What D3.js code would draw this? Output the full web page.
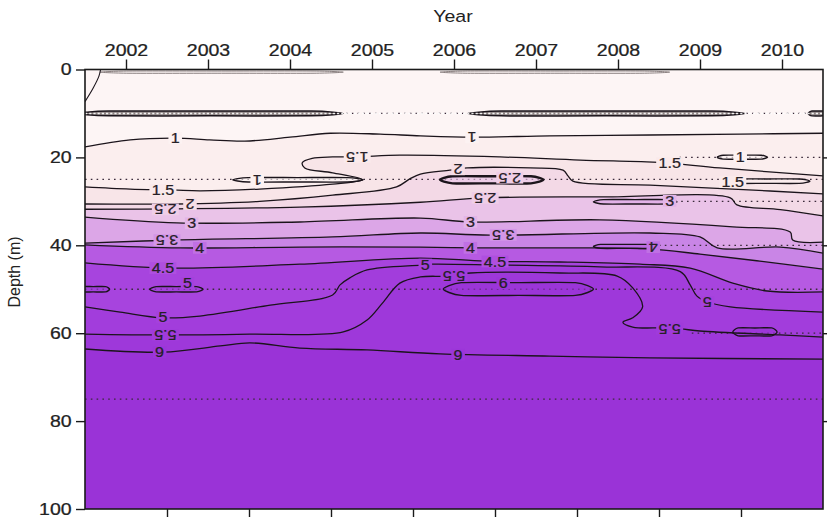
<!DOCTYPE html>
<html>
<head>
<meta charset="utf-8">
<script src="https://cdn.jsdelivr.net/npm/d3@7"></script>
<style>
html, body { margin: 0; padding: 0; background: #fff; }
svg { display: block; font-family: "Liberation Sans", Arial, sans-serif; }
</style>
</head>
<body>
<svg id="chart" width="827" height="517"></svg>
<script>
// ---- data -------------------------------------------------------------
const yearTicks = [2002, 2003, 2004, 2005, 2006, 2007, 2008, 2009, 2010];
const midYearTicks = [2002.5, 2003.5, 2004.5, 2005.5, 2006.5, 2007.5, 2008.5, 2009.5];
const depthTicks = [0, 20, 40, 60, 80, 100];
const sideDepthTicks = [20, 40, 60, 80];

// contour levels and the fill of each band (below first level .. above last)
const levels = [1, 1.5, 2, 2.5, 3, 3.5, 4, 4.5, 5, 5.5, 6];
const bandColors = ["#fdf5f5", "#fbeeee", "#f8e5e8", "#f3d9e6", "#eac3e8", "#dca6e7",
                    "#c985e6", "#b65ae2", "#a744de", "#a23ddc", "#9e38da", "#9a33d7"];

// isoline depth (m) through time (decimal year), one array per level
const iso1  = [[2001.5,17.6],[2002.05,16.0],[2002.6,15.6],[2003.02,16.0],[2003.45,16.3],[2004.0,15.4],[2004.49,14.5],[2005.1,14.7],[2005.59,15.1],[2006.22,15.4],[2007.17,15.1],[2008.39,14.9],[2009.49,14.7],[2010.5,14.5]];
const iso15 = [[2001.5,26.7],[2002.05,27.2],[2002.57,27.4],[2002.9,27.6],[2003.63,27.2],[2004.52,26.1],[2004.89,25.1],[2004.52,23.5],[2004.18,22.4],[2004.15,21.2],[2004.27,20.2],[2004.52,19.9],[2004.82,19.9],[2005.34,19.5],[2006.56,19.9],[2007.54,20.6],[2008.35,21.0],[2008.63,21.3],[2009.24,22.4],[2010.5,24.2]];
const iso2  = [[2001.5,30.6],[2002.62,30.6],[2003.63,30.0],[2004.52,28.6],[2005.3,26.7],[2005.46,24.9],[2005.59,23.8],[2005.95,22.9],[2006.16,22.4],[2006.93,22.4],[2007.33,22.9],[2007.39,24.2],[2007.45,25.4],[2008.39,26.3],[2009.4,27.2],[2010.5,28.3]];
const iso25 = [[2001.5,31.8],[2002.62,31.7],[2004.12,31.3],[2005.59,30.2],[2006.38,29.2],[2007.78,29.0],[2009.37,29.2],[2009.45,30.8],[2009.98,31.9],[2010.5,33.3]];
const iso3  = [[2001.5,33.6],[2002.62,34.9],[2004.12,34.7],[2005.59,33.8],[2006.2,34.7],[2007.78,34.2],[2009.4,35.8],[2010.1,37.0],[2010.13,38.8],[2010.5,39.3]];
const iso35 = [[2001.5,39.5],[2002.6,38.8],[2004.52,38.1],[2005.59,37.2],[2006.44,37.7],[2008.39,37.2],[2009.0,38.1],[2009.21,40.6],[2009.98,40.4],[2010.5,41.8]];
const iso4  = [[2001.5,39.9],[2002.66,40.6],[2004.12,40.4],[2005.59,40.4],[2006.28,40.6],[2007.29,40.6],[2008.35,40.8],[2009.0,42.0],[2009.73,43.6],[2010.5,45.4]];
const iso45 = [[2001.5,44.0],[2002.54,45.2],[2004.12,44.3],[2005.59,42.9],[2006.38,43.6],[2007.29,43.8],[2008.27,44.3],[2008.88,45.2],[2009.4,48.6],[2009.82,50.4],[2010.5,50.6]];
const iso5  = [[2001.5,54.0],[2001.93,55.2],[2002.45,56.5],[2002.9,56.1],[2003.76,53.6],[2004.52,51.3],[2004.61,49.0],[2004.73,47.4],[2004.94,45.6],[2005.59,44.5],[2005.71,44.3],[2006.56,44.5],[2007.78,44.9],[2008.76,46.0],[2008.88,49.0],[2008.96,51.5],[2009.09,52.9],[2009.37,54.0],[2010.5,55.2]];
const iso55 = [[2001.5,60.2],[2002.48,60.4],[2003.51,60.2],[2004.65,59.7],[2004.94,57.0],[2005.13,53.1],[2005.34,48.6],[2005.59,47.2],[2005.91,47.0],[2006.2,46.3],[2007.29,46.3],[2007.99,47.0],[2008.18,49.7],[2008.3,54.0],[2008.18,56.5],[2008.06,57.5],[2008.18,58.6],[2008.55,58.8],[2008.76,59.0],[2009.0,59.5],[2009.98,60.4],[2010.5,60.9]];
const iso6  = [[2001.5,63.6],[2002.45,64.3],[2003.15,62.9],[2003.51,62.2],[2004.12,63.4],[2004.94,63.8],[2005.83,64.7],[2007.17,65.2],[2008.39,65.6],[2010.5,65.9]];
// small near-surface isoline at the start of the record
const isoSurface = [[2001.69,0],[2001.67,1.5],[2001.6,4.2],[2001.5,7.3]];

// closed contours: level, value inside, start year, end year, top depth, bottom depth
const lenses = [
  [1, 0.9, 2003.3, 2004.89, 24.6, 25.6],
  [2.5, 2.6, 2005.83, 2007.09, 24.3, 25.9],
  [1, 0.9, 2009.21, 2009.82, 19.5, 20.4],
  [1.5, 1.4, 2009.28, 2010.34, 24.9, 25.9],
  [3, 3.1, 2007.7, 2008.72, 29.6, 30.6],
  [4, 4.1, 2007.7, 2008.43, 39.8, 40.7],
  [5, 5.1, 2001.4, 2001.8, 49.4, 50.6],
  [5, 5.1, 2002.29, 2002.94, 49.4, 50.6],
  [6, 6.1, 2005.87, 2007.7, 48.5, 51.4],
  [6, 6.1, 2009.4, 2009.94, 58.8, 60.6]
];
// thin closed contours along the 10 m samples
const lenses10 = [
  [0.5, 0.3, 2001.4, 2004.65, 9.45, 10.55],
  [0.5, 0.3, 2006.17, 2009.55, 9.45, 10.55],
  [0.5, 0.3, 2010.32, 2010.7, 9.45, 10.55]
];
// faint closed contours just below the surface
const surfaceLenses = [
  [0.5, 0.3, 2001.68, 2004.65, 0.35, 0.85],
  [0.5, 0.3, 2005.83, 2008.63, 0.35, 0.85]
];

// sampled depths: depth, first year, last year
const samples = [
  [10, 2001.5, 2010.5], [20, 2008.75, 2010.5], [25, 2001.5, 2010.5],
  [30, 2008.7, 2010.5], [40, 2008.5, 2010.5], [50, 2001.5, 2010.5],
  [60, 2008.9, 2010.5], [75, 2001.5, 2010.5]
];

// contour labels: text, year, depth, flipped
const labels = [
  ["1", 2002.6, 15.6, 0], ["1", 2006.22, 15.4, 1],
  ["1.5", 2002.45, 27.4, 0], ["1.5", 2004.82, 19.9, 1], ["1.5", 2008.63, 21.3, 0],
  ["2", 2002.78, 30.6, 1], ["2.5", 2002.48, 31.8, 1],
  ["2", 2006.05, 22.7, 1], ["2.5", 2006.38, 29.2, 1],
  ["3", 2002.8, 35.0, 0], ["3", 2006.2, 34.7, 0],
  ["3.5", 2002.5, 38.8, 1], ["3.5", 2006.6, 37.6, 1],
  ["4", 2002.9, 40.6, 0], ["4", 2006.2, 40.6, 0],
  ["4.5", 2002.45, 45.2, 0], ["4.5", 2006.5, 43.7, 0],
  ["5", 2002.45, 56.4, 0], ["5", 2005.65, 44.4, 0], ["5", 2009.09, 52.9, 1],
  ["5.5", 2002.48, 60.4, 1], ["5.5", 2006.0, 46.9, 1], ["5.5", 2008.63, 59.0, 1],
  ["6", 2002.41, 64.3, 1], ["6", 2006.05, 64.9, 1],
  ["1", 2003.6, 25.2, 1], ["2.5", 2006.68, 24.6, 1], ["1", 2009.49, 19.9, 0],
  ["1.5", 2009.4, 25.6, 0], ["3", 2008.63, 29.9, 0], ["4", 2008.43, 40.4, 1],
  ["5", 2002.75, 48.6, 0], ["6", 2006.6, 48.6, 0]
];

const isolines = [
  [1, iso1], [1.5, iso15], [2, iso2], [2.5, iso25], [3, iso3], [3.5, iso35],
  [4, iso4], [4.5, iso45], [5, iso5], [5.5, iso55], [6, iso6]
];

// ---- drawing ----------------------------------------------------------
const svg = d3.select("#chart");
const x = d3.scaleLinear().domain([2001.5, 2010.5]).range([85, 823]);
const y = d3.scaleLinear().domain([0, 100]).range([69.5, 509]);
const color = d3.scaleThreshold().domain(levels).range(bandColors);
const ink = "#1b141b";

svg.append("defs").append("clipPath").attr("id", "plot")
  .append("rect").attr("x", x(2001.5)).attr("y", y(0))
  .attr("width", x(2010.5) - x(2001.5)).attr("height", y(100) - y(0));

const plot = svg.append("g").attr("clip-path", "url(#plot)");

const line = d3.line().x(d => x(d[0])).y(d => y(d[1])).curve(d3.curveCatmullRom.alpha(0.5));
const extend = pts => [[2001.3, pts[0][1]], ...pts, [2010.7, pts[pts.length - 1][1]]];

// lightest band as the background
plot.append("rect").attr("x", x(2001.5)).attr("y", y(0))
  .attr("width", x(2010.5) - x(2001.5)).attr("height", y(100) - y(0))
  .attr("fill", color(0));

// each level fills everything deeper than its isoline
isolines.forEach(([lev, pts]) => {
  const p = line(extend(pts)) + `L${x(2010.7)},${y(101)}L${x(2001.3)},${y(101)}Z`;
  plot.append("path").attr("d", p).attr("fill", color(lev)).attr("fill-rule", "evenodd");
});

// sampling depths
plot.selectAll("line.sample").data(samples).join("line")
  .attr("class", "sample")
  .attr("x1", d => x(d[1])).attr("x2", d => x(d[2]))
  .attr("y1", d => y(d[0])).attr("y2", d => y(d[0]))
  .attr("stroke", "#3a2a3a").attr("stroke-width", 1.3)
  .attr("stroke-dasharray", "1.6,4.2");

// closed contours
const lensLine = d3.line().x(d => x(d[0])).y(d => y(d[1])).curve(d3.curveCardinalClosed.tension(0.3));
const lensPoints = ([, , y0, y1, d0, d1]) => {
  const w = y1 - y0, m = (d0 + d1) / 2;
  return [[y0, m], [y0 + 0.12 * w, d0], [y0 + 0.5 * w, d0], [y1 - 0.12 * w, d0],
          [y1, m], [y1 - 0.12 * w, d1], [y0 + 0.5 * w, d1], [y0 + 0.12 * w, d1]];
};
plot.selectAll("path.surface").data(surfaceLenses).join("path")
  .attr("class", "surface")
  .attr("d", d => lensLine(lensPoints(d)))
  .attr("fill", d => color(d[1])).attr("stroke", "#8a8080").attr("stroke-width", 1);

plot.selectAll("path.lens10").data(lenses10).join("path")
  .attr("class", "lens10")
  .attr("d", d => lensLine(lensPoints(d)))
  .attr("fill", "#8f8585").attr("stroke", ink).attr("stroke-width", 1.5);
plot.append("line")
  .attr("x1", x(2001.5)).attr("x2", x(2010.5)).attr("y1", y(10)).attr("y2", y(10))
  .attr("stroke", "#fff").attr("stroke-opacity", 0.9).attr("stroke-width", 1.4)
  .attr("stroke-dasharray", "2.2,2");

plot.selectAll("path.lens").data(lenses).join("path")
  .attr("class", "lens")
  .attr("d", d => lensLine(lensPoints(d)))
  .attr("fill", d => color(d[1])).attr("fill-opacity", 0.6)
  .attr("stroke", ink).attr("stroke-width", d => d[0] === 2.5 ? 2.4 : 1.4);

// isolines
isolines.forEach(([, pts]) => {
  plot.append("path").attr("d", line(pts))
    .attr("fill", "none").attr("stroke", ink).attr("stroke-width", 1.3);
});
plot.append("path").attr("d", line(isoSurface))
  .attr("fill", "none").attr("stroke", ink).attr("stroke-width", 1.1);

// contour labels on a patch of the local band colour, breaking the line
const halo = v => d3.interpolateRgb(color(+v - 0.01), color(+v))(0.5);
const lab = plot.selectAll("g.clabel").data(labels).join("g")
  .attr("class", "clabel")
  .attr("transform", d => `translate(${x(d[1])},${y(d[2])}) rotate(${d[3] ? 180 : 0}) scale(1.15,1)`);
lab.append("rect").attr("fill", d => halo(d[0]));
const txt = lab.append("text")
  .attr("text-anchor", "middle").attr("dy", "0.36em")
  .attr("font-size", 14).attr("fill", "#262026")
  .attr("stroke", "#262026").attr("stroke-width", 0.25)
  .text(d => d[0]);
txt.each(function () {
  const b = this.getBBox();
  d3.select(this.previousSibling)
    .attr("x", b.x - 2).attr("y", b.y + 2).attr("width", b.width + 4).attr("height", b.height - 4);
});

// ---- axes -------------------------------------------------------------
const stretch = sel => sel.selectAll("text").attr("transform", "scale(1.22,1)");

const axisTopG = svg.append("g").attr("transform", `translate(0,${y(0)})`)
  .call(d3.axisTop(x).tickValues(yearTicks).tickFormat(d3.format("d")).tickSize(10).tickPadding(4));
const axisBottomG = svg.append("g").attr("transform", `translate(0,${y(100)})`)
  .call(d3.axisBottom(x).tickValues(midYearTicks).tickFormat("").tickSize(9));
const axisLeftG = svg.append("g").attr("transform", `translate(${x(2001.5)},0)`)
  .call(d3.axisLeft(y).tickValues(depthTicks).tickSize(9).tickPadding(2));
const axisRightG = svg.append("g").attr("transform", `translate(${x(2010.5)},0)`)
  .call(d3.axisRight(y).tickValues(sideDepthTicks).tickFormat("").tickSize(4));

[axisTopG, axisBottomG, axisLeftG, axisRightG].forEach(g => {
  g.select(".domain").remove();
  g.selectAll("line").attr("stroke", "#1a1a1a").attr("stroke-width", 1.4);
  g.selectAll("text").attr("font-size", 16).attr("fill", "#222")
    .attr("stroke", "#222").attr("stroke-width", 0.25)
    .attr("font-family", "'Liberation Sans', Arial, sans-serif");
});
stretch(axisTopG);
stretch(axisLeftG);

// frame
svg.append("rect").attr("x", x(2001.5)).attr("y", y(0))
  .attr("width", x(2010.5) - x(2001.5)).attr("height", y(100) - y(0))
  .attr("fill", "none").attr("stroke", "#1a1a1a").attr("stroke-width", 1.6);

// axis titles
svg.append("text").attr("transform", "translate(453,22) scale(1.15,1)")
  .attr("text-anchor", "middle").attr("font-size", 17).attr("fill", "#222").text("Year");
svg.append("text").attr("transform", "translate(20,272) rotate(-90)")
  .attr("text-anchor", "middle").attr("font-size", 16).attr("fill", "#222").text("Depth (m)");
</script>
</body>
</html>
